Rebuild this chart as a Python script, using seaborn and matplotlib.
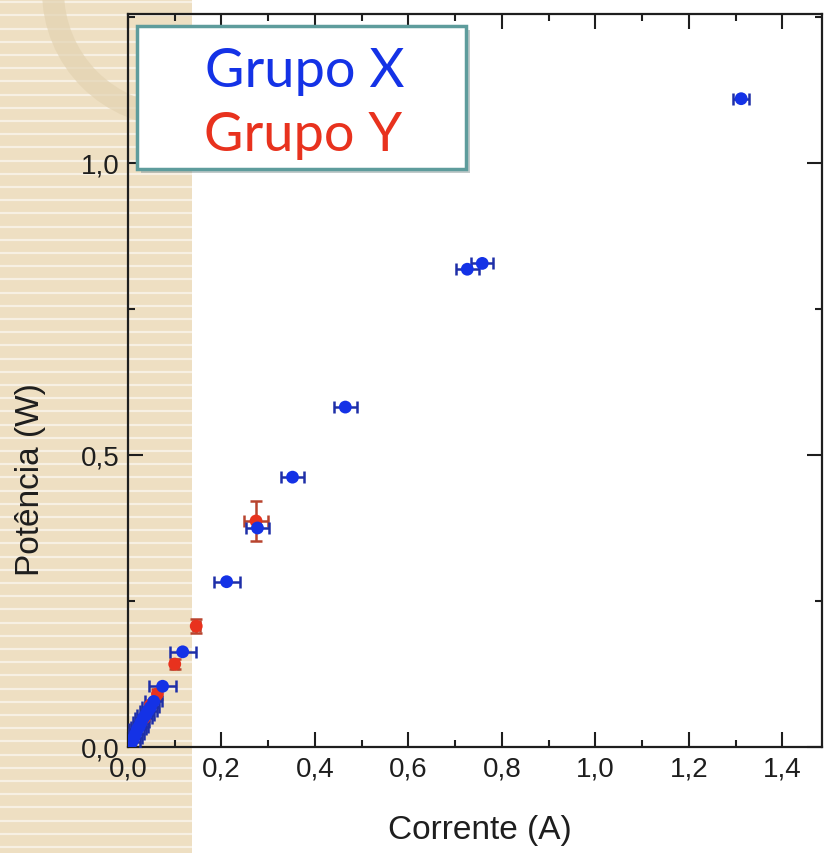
import numpy as np
import pandas as pd
import matplotlib
matplotlib.use("Agg")
import matplotlib.pyplot as plt
import seaborn as sns
from matplotlib.patches import Rectangle, Wedge
from matplotlib.lines import Line2D
from matplotlib.transforms import IdentityTransform
from matplotlib.ticker import MultipleLocator, FuncFormatter

# ---------------- data ----------------
x_grupo_x = [0.008, 0.012, 0.016, 0.020, 0.024, 0.028, 0.033, 0.038, 0.043, 0.048,
             0.055, 0.074, 0.117, 0.211, 0.277, 0.352, 0.465, 0.726, 0.758, 1.312]
y_grupo_x = [0.008, 0.015, 0.022, 0.030, 0.035, 0.042, 0.050, 0.055, 0.062, 0.068,
             0.078, 0.104, 0.163, 0.283, 0.375, 0.462, 0.582, 0.818, 0.828, 1.110]
xerr_grupo_x = [0.018, 0.018, 0.018, 0.018, 0.018, 0.018, 0.018, 0.018, 0.018, 0.018,
                0.018, 0.028, 0.028, 0.028, 0.024, 0.025, 0.025, 0.024, 0.024, 0.017]

x_grupo_y = [0.035, 0.048, 0.063, 0.100, 0.146, 0.274]
y_grupo_y = [0.050, 0.072, 0.091, 0.142, 0.207, 0.387]
xerr_grupo_y = [0.005, 0.005, 0.005, 0.006, 0.007, 0.025]
yerr_grupo_y = [0.005, 0.005, 0.008, 0.008, 0.012, 0.034]

legend_labels = ["Grupo X", "Grupo Y"]
x_ticks = [0.0, 0.2, 0.4, 0.6, 0.8, 1.0, 1.2, 1.4]
y_ticks = [0.0, 0.5, 1.0]
x_label = "Corrente (A)"
y_label = "Potência (W)"

BLUE = "#1432e6"
RED = "#e8321e"
BLUE_ERR = "#1e2fa8"
RED_ERR = "#b8442e"

df = pd.DataFrame({
    "corrente": x_grupo_y + x_grupo_x,
    "potencia": y_grupo_y + y_grupo_x,
    "grupo": [legend_labels[1]] * len(x_grupo_y) + [legend_labels[0]] * len(x_grupo_x),
})

# ---------------- figure ----------------
sns.set_theme(style="ticks")
plt.rcParams["font.family"] = ["Liberation Sans", "DejaVu Sans"]

W, H = 830, 854
fig = plt.figure(figsize=(W / 100, H / 100), dpi=100, facecolor="white")

# beige striped strip on the left (slide background)
strip = Rectangle((0, 0), 192 / W, 1, transform=fig.transFigure,
                  facecolor="#eedfc2", edgecolor="none", zorder=-10)
fig.patches.append(strip)
for yy in np.arange(6, H, 13.2):
    fig.lines.append(Line2D([0, 192 / W], [yy / H, yy / H], transform=fig.transFigure,
                            color="white", alpha=0.55, lw=1.6, zorder=-9))
ring = Wedge((178, H + 8), 136, 180, 360, width=22, transform=IdentityTransform(),
             facecolor="#e3d3b2", edgecolor="none", alpha=0.7, zorder=-8)
ring.set_clip_path(strip)
fig.patches.append(ring)

ax = fig.add_axes([128 / W, (H - 748) / H, (822 - 128) / W, (748 - 15) / H])
ax.set_facecolor("none")

# error bars
ax.errorbar(x_grupo_y, y_grupo_y, xerr=xerr_grupo_y, yerr=yerr_grupo_y, fmt="none",
            ecolor=RED_ERR, elinewidth=1.8, capsize=4.5, capthick=1.8, zorder=2)
ax.errorbar(x_grupo_x, y_grupo_x, xerr=xerr_grupo_x, fmt="none",
            ecolor=BLUE_ERR, elinewidth=1.8, capsize=4.5, capthick=1.8, zorder=3)

# points
sns.scatterplot(data=df, x="corrente", y="potencia", hue="grupo",
                palette={legend_labels[0]: BLUE, legend_labels[1]: RED},
                s=85, linewidth=0, legend=False, ax=ax, zorder=4)

ax.set_xlim(0, 1.485)
ax.set_ylim(0, 1.255)
ax.xaxis.set_major_locator(MultipleLocator(0.2))
ax.xaxis.set_minor_locator(MultipleLocator(0.1))
ax.yaxis.set_major_locator(MultipleLocator(0.5))
ax.yaxis.set_minor_locator(MultipleLocator(0.25))
ax.set_xticks(x_ticks)
ax.set_yticks(y_ticks)
comma = FuncFormatter(lambda v, p: f"{v:.1f}".replace(".", ","))
ax.xaxis.set_major_formatter(comma)
ax.yaxis.set_major_formatter(comma)

for s in ax.spines.values():
    s.set_linewidth(1.6)
    s.set_color("#1e1e1e")
ax.tick_params(which="both", direction="in", top=True, right=True,
               width=1.5, color="#1e1e1e", labelcolor="#1e1e1e")
ax.tick_params(which="major", length=10.5, labelsize=20, pad=6)
ax.tick_params(which="minor", length=5)

ax.set_xlabel(x_label, fontsize=24, color="#1e1e1e")
ax.set_ylabel(y_label, fontsize=24, color="#1e1e1e")
ax.xaxis.set_label_coords(0.507, -0.092)
ax.yaxis.set_label_coords(-0.118, 0.366)

# legend box (text-only, coloured labels)
bx0, by0, bx1, by1 = 137, 27, 466, 170
shadow = Rectangle((bx0 / W + 4 / W, 1 - by1 / H - 4 / H), (bx1 - bx0) / W, (by1 - by0) / H,
                   transform=fig.transFigure, facecolor="#9aa7a7", edgecolor="none",
                   alpha=0.6, zorder=5)
box = Rectangle((bx0 / W, 1 - by1 / H), (bx1 - bx0) / W, (by1 - by0) / H,
                transform=fig.transFigure, facecolor="white", edgecolor="#5e9c9c",
                linewidth=2.5, zorder=6)
fig.patches.append(shadow)
fig.patches.append(box)
fig.text(305 / W, 1 - 72 / H, legend_labels[0], color=BLUE, fontsize=39,
         family=["Lato", "DejaVu Sans"], ha="center", va="center", zorder=7)
fig.text(303 / W, 1 - 136 / H, legend_labels[1], color=RED, fontsize=39,
         family=["Lato", "DejaVu Sans"], ha="center", va="center", zorder=7)

fig.savefig("out.png", dpi=100, facecolor="white")
